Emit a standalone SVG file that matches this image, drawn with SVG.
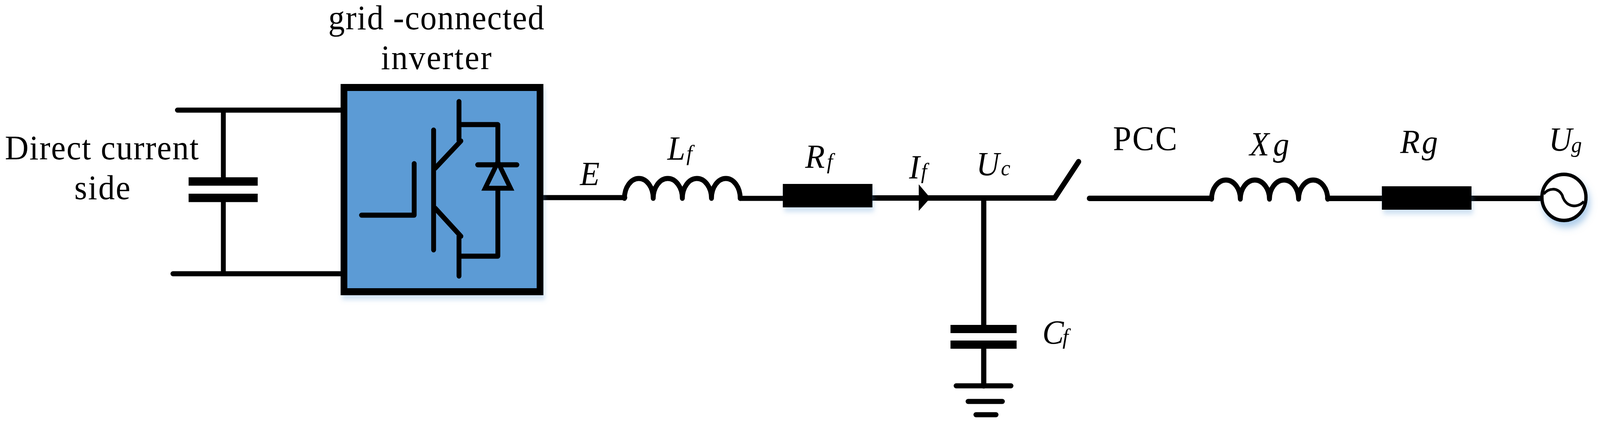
<svg xmlns="http://www.w3.org/2000/svg" width="4284" height="1096" viewBox="0 0 4284 1096">
<!-- Coordinates are true to the 4284-wide reference. The sandbox window measured about 4096 px wide, which cut off the AC source and its label, so the media rule below squeezes x by 4096/4284 in windows narrower than 4200 px. It does not fire in a real 4284 px window. -->
<style>
text{font-family:"Liberation Serif","Times New Roman",serif;font-size:88px;fill:#000}
.i{font-style:italic;font-size:86px}
.s{font-size:57px;font-style:italic}
.w{fill:none;stroke:#000;stroke-width:13;stroke-linecap:round;stroke-linejoin:round}
.b{fill:#000}
@media (max-width:4200px){#diagram{transform:scale(.9561,1)}}
</style>
<defs>
<filter id="sh" x="-20%" y="-20%" width="140%" height="160%"><feDropShadow dx="4" dy="12" stdDeviation="6" flood-color="#5B9BD5" flood-opacity="0.28"/></filter>
<filter id="shc" x="-30%" y="-30%" width="170%" height="170%"><feDropShadow dx="6" dy="14" stdDeviation="9" flood-color="#5B9BD5" flood-opacity="0.5"/></filter>
</defs>
<rect width="4284" height="1096" fill="#fff"/>
<g id="diagram">
<g id="connectors" class="w">
<path d="M475 282H921M463 701H921M598 282V454M598 517V701"/>
<path d="M1455 506H1673"/>
<path d="M1982 508H2096"/>
<path d="M2336 507H2822M2634 507V832M2634 893V988" style="stroke-width:14"/>
<path d="M2917 508H3244" style="stroke-width:14"/>
<path d="M3555 508H3700M3940 508H4124" style="stroke-width:14"/>
</g>
<g id="inverter">
<rect x="921" y="224" width="525" height="523" fill="#5B9BD5" stroke="#000" stroke-width="18" filter="url(#sh)"/>
<path class="w" d="M1229 260V360M1229 605V707M1229 319H1333V415M1333 488V656H1229M1161 333V640M1165 431L1234 361M1165 533L1234 605M1109 419V551H968M1279 422H1384"/>
<polygon points="1333,415 1299,482 1367,482" fill="none" stroke="#000" stroke-width="12.5"/>
</g>
<g id="dc-capacitor">
<rect class="b" x="505" y="454" width="185" height="21.5"/>
<rect class="b" x="505" y="496" width="185" height="21.5"/>
</g>
<g id="Lf"><path class="w" d="M1672 508A38.5 51 0 0 1 1749 508A39 51 0 0 1 1827 508A39 51 0 0 1 1905 508A38.5 51 0 0 1 1982 508"/></g>
<g id="Rf"><rect class="b" x="2096" y="471" width="240" height="60" filter="url(#sh)"/></g>
<g id="If-arrow"><polygon class="b" points="2460,472 2491,507 2460,540"/></g>
<g id="Cf">
<rect class="b" x="2545" y="832" width="177" height="21"/>
<rect class="b" x="2545" y="872" width="177" height="21"/>
</g>
<g id="ground">
<path class="w" d="M2560 988H2707M2592 1028H2684M2613 1062H2667"/>
</g>
<g id="switch"><path class="w" d="M2824 507L2888 414" style="stroke-width:14"/></g>
<g id="Xg"><path class="w" d="M3244 510A38.5 49 0 0 1 3321 510A39 49 0 0 1 3399 510A39 49 0 0 1 3477 510A39 49 0 0 1 3555 510"/></g>
<g id="Rg"><rect class="b" x="3700" y="477" width="240" height="60" filter="url(#sh)"/></g>
<g id="source">
<circle cx="4187.5" cy="505.5" r="59" fill="#fff" stroke="#000" stroke-width="9" filter="url(#shc)"/>
<path d="M4133 497C4146 482 4170 478 4183 500C4191 530 4222 535 4241 516" fill="none" stroke="#000" stroke-width="7"/>
</g>
<g id="labels">
<text x="13" y="408" textLength="519" lengthAdjust="spacing">Direct current</text>
<text x="199" y="510" textLength="150" lengthAdjust="spacing">side</text>
<text x="879" y="75" textLength="578" lengthAdjust="spacing">grid -connected</text>
<text x="1020" y="177" textLength="296" lengthAdjust="spacing">inverter</text>
<text class="i" x="1553" y="474">E</text>
<text class="i" x="1787" y="409">L<tspan class="s" x="1838" y="411">f</tspan></text>
<text class="i" x="2156" y="430">R<tspan class="s" x="2214" y="432">f</tspan></text>
<text class="i" x="2434" y="457">I<tspan class="s" x="2466" y="457">f</tspan></text>
<text class="i" x="2614" y="449">U<tspan class="s" x="2680" y="449">c</tspan></text>
<text class="i" x="2791" y="880">C<tspan class="s" x="2845" y="881">f</tspan></text>
<text x="2980" y="384" textLength="172" lengthAdjust="spacing">PCC</text>
<text class="i" x="3346" y="398">X<tspan x="3409" y="398">g</tspan></text>
<text class="i" x="3749" y="392">R<tspan x="3807" y="392">g</tspan></text>
<text class="i" x="4147" y="386">U<tspan class="s" x="4207" y="390">g</tspan></text>
</g>
</g>
</svg>
